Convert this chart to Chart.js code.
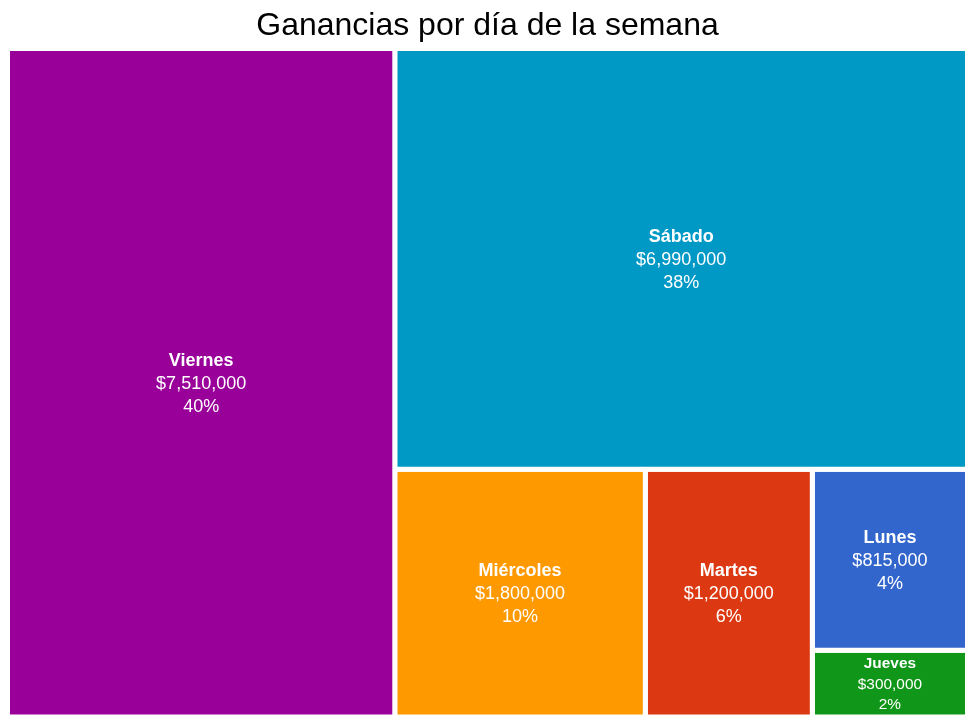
<!DOCTYPE html>
<html lang="es">
<head>
<meta charset="utf-8">
<title>Ganancias por día de la semana</title>
<script src="https://cdn.jsdelivr.net/npm/chart.js@4.4.1/dist/chart.umd.min.js"></script>
<style>
  html, body { margin: 0; padding: 0; background: #fff; }
  .wrap { width: 975px; height: 725px; position: relative; }
</style>
</head>
<body>
<div class="wrap"><canvas id="chart-treemap"></canvas></div>
<script>
/* ---- Datos ---- */
const dias = ['Lunes', 'Martes', 'Miércoles', 'Jueves', 'Viernes', 'Sábado'];
const ganancias = [815000, 1200000, 1800000, 300000, 7510000, 6990000];
const colores = ['#3366CC', '#DC3912', '#FF9900', '#109618', '#990099', '#0099C6'];
const titulo = 'Ganancias por día de la semana';

const FUENTE = "'Liberation Sans', Arial, sans-serif";
const total = ganancias.reduce((s, v) => s + v, 0);

/* ---- Squarify (como d3, ratio 1) -> fracciones 0..1 ---- */
function squarify(items, w, h) {
  const out = [];
  let x0 = 0, y0 = 0, x1 = w, y1 = h;
  let rest = items.reduce((s, it) => s + it.value, 0);
  let i0 = 0;
  while (i0 < items.length) {
    const dx = x1 - x0, dy = y1 - y0;
    let i1 = i0;
    let sum = items[i1++].value;
    let minV = sum, maxV = sum;
    const alpha = Math.max(dy / dx, dx / dy) / rest;
    let beta = sum * sum * alpha;
    let best = Math.max(maxV / beta, beta / minV);
    for (; i1 < items.length; i1++) {
      const v = items[i1].value;
      const s = sum + v;
      const mn = Math.min(minV, v), mx = Math.max(maxV, v);
      beta = s * s * alpha;
      const r = Math.max(mx / beta, beta / mn);
      if (r > best) break;
      sum = s; minV = mn; maxV = mx; best = r;
    }
    const row = items.slice(i0, i1);
    if (dx < dy) {
      const rh = dy * sum / rest;
      let cx = x0;
      row.forEach(it => {
        const cw = dx * it.value / sum;
        out.push({ ...it, x0: cx, x1: cx + cw, y0: y0, y1: y0 + rh });
        cx += cw;
      });
      y0 += rh;
    } else {
      const rw = dx * sum / rest;
      let cy = y0;
      row.forEach(it => {
        const ch = dy * it.value / sum;
        out.push({ ...it, x0: x0, x1: x0 + rw, y0: cy, y1: cy + ch });
        cy += ch;
      });
      x0 += rw;
    }
    rest -= sum; i0 = i1;
  }
  return out.map(c => ({ ...c, x0: c.x0 / w, x1: c.x1 / w, y0: c.y0 / h, y1: c.y1 / h }));
}

let celdas = [];

/* ---- Etiquetas dentro de cada celda ---- */
const etiquetas = {
  id: 'etiquetas',
  afterDatasetsDraw(chart) {
    const { ctx, scales: { x, y } } = chart;
    ctx.save();
    ctx.fillStyle = '#fff';
    ctx.textAlign = 'center';
    ctx.textBaseline = 'middle';
    celdas.forEach(c => {
      const left = x.getPixelForValue(c.x0), right = x.getPixelForValue(c.x1);
      const top = y.getPixelForValue(c.y0), bottom = y.getPixelForValue(c.y1);
      const w = right - left - 5, h = bottom - top - 5;
      const lineas = [c.label, '$' + c.value.toLocaleString('en-US'), Math.round(c.value / total * 100) + '%'];
      const base = 18;
      ctx.font = 'bold ' + base + 'px ' + FUENTE;
      let anchoMax = ctx.measureText(lineas[0]).width;
      ctx.font = base + 'px ' + FUENTE;
      anchoMax = Math.max(anchoMax, ctx.measureText(lineas[1]).width, ctx.measureText(lineas[2]).width);
      const lh = base * 1.28;
      const k = Math.min(1, (h - 2.5) / (3 * lh), (w - 6) / anchoMax);
      const size = base * k, paso = lh * (k < 1 ? k * 1.04 : 1);
      const cx = (left + right) / 2, cy = (top + bottom) / 2 + 1;
      lineas.forEach((t, i) => {
        ctx.font = (i === 0 ? 'bold ' : '') + size + 'px ' + FUENTE;
        ctx.fillText(t, cx, cy + (i - 1) * paso);
      });
    });
    ctx.restore();
  }
};

const chart = new Chart(document.getElementById('chart-treemap'), {
  type: 'scatter',
  data: { datasets: [] },
  options: {
    responsive: true,
    maintainAspectRatio: false,
    animation: false,
    events: [],
    layout: { padding: { left: 7.5, right: 7.5, top: 0, bottom: 8 } },
    scales: {
      x: { type: 'linear', min: 0, max: 1, display: false },
      y: { type: 'linear', min: 0, max: 1, reverse: true, display: false }
    },
    plugins: {
      legend: { display: false },
      tooltip: { enabled: false },
      title: {
        display: true,
        text: titulo,
        color: '#000',
        font: { family: FUENTE, size: 32, weight: 'normal' },
        padding: { top: 7, bottom: 3.1 }
      }
    }
  },
  plugins: [etiquetas]
});

/* ---- Layout con la proporción real del área ---- */
const area = chart.chartArea;
const items = dias.map((d, i) => ({ label: d, value: ganancias[i], color: colores[i] }))
  .sort((a, b) => b.value - a.value);
celdas = squarify(items, area.right - area.left, area.bottom - area.top);

chart.data.datasets = celdas.map(c => ({
  label: c.label,
  data: [
    { x: c.x0, y: c.y0 }, { x: c.x1, y: c.y0 },
    { x: c.x1, y: c.y1 }, { x: c.x0, y: c.y1 }, { x: c.x0, y: c.y0 }
  ],
  showLine: true,
  fill: 'shape',
  backgroundColor: c.color,
  borderColor: '#fff',
  borderWidth: 5,
  borderJoinStyle: 'miter',
  borderCapStyle: 'square',
  pointRadius: 0,
  tension: 0,
  clip: false
}));
chart.update();
</script>
</body>
</html>
